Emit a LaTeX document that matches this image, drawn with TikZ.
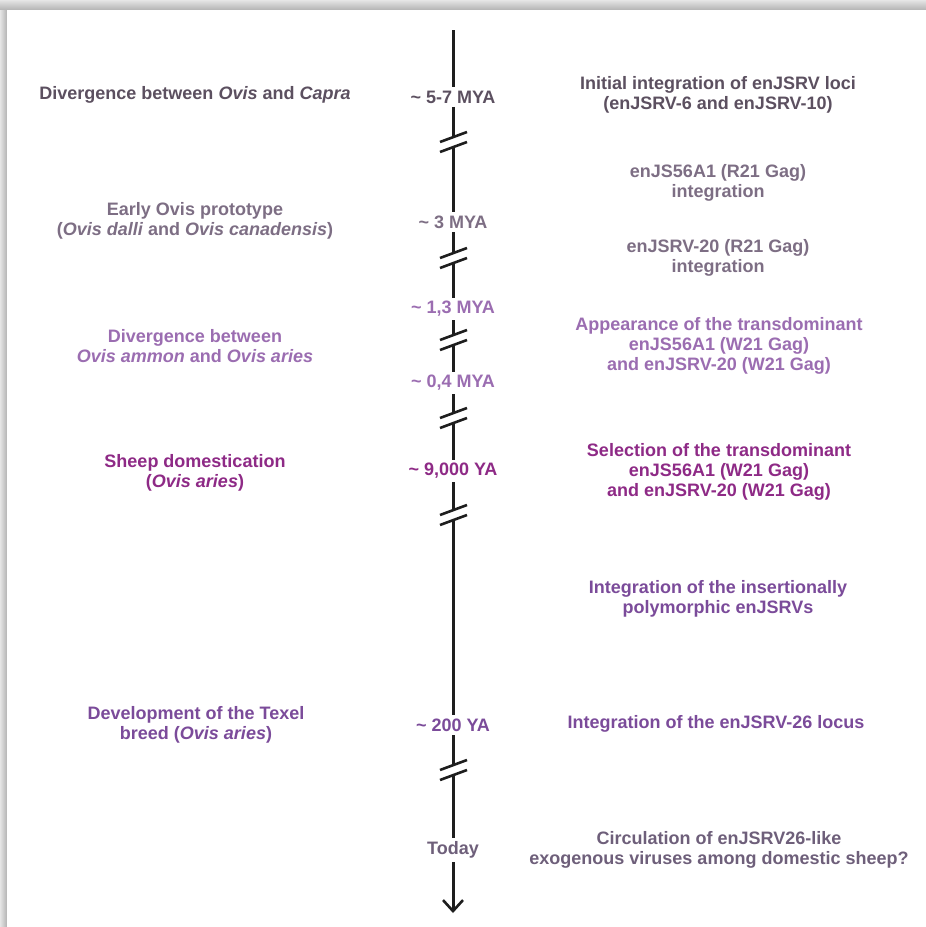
\documentclass[tikz,border=0pt]{standalone}
\usepackage{fontspec}
\setmainfont{Liberation Sans}
\usetikzlibrary{arrows.meta}
\definecolor{cA}{HTML}{5C5060}
\definecolor{cB}{HTML}{7D6E84}
\definecolor{cC}{HTML}{9B6DB1}
\definecolor{cD}{HTML}{8E2A86}
\definecolor{cE}{HTML}{7B4B9A}
\definecolor{cF}{HTML}{6E5F7A}
\definecolor{lineblk}{HTML}{1E1E1E}
\begin{document}
\begin{tikzpicture}[x=1pt,y=-1pt,
  txt/.style={font=\fontsize{18}{19.8}\selectfont\bfseries, align=center, inner sep=0pt},
  yr/.style={font=\fontsize{18}{19.8}\selectfont\bfseries, inner xsep=2pt, inner ysep=3.5pt},
  tl/.style={line width=3pt, draw=lineblk},
  slash/.style={line width=2.6pt, draw=lineblk}]
\useasboundingbox (0,0) rectangle (926,927);
% frame with shadow
\fill[gray!40] (0,0) rectangle (926,927);
\shade[top color=gray!20, bottom color=gray!60] (0,0) rectangle (926,10);
\shade[left color=gray!20, right color=gray!60] (0,10) rectangle (7,927);
\fill[white] (7,10) rectangle (926,927);

% timeline labels
\coordinate (top) at (453,30);
\coordinate (end) at (453,913);
\node[yr, text=cA] (l1) at (453,97) {\~{} 5-7 MYA};
\node[yr, text=cB] (l2) at (453,222) {\~{} 3 MYA};
\node[yr, text=cC] (l3) at (453,309) {\~{} 1,3 MYA};
\node[yr, text=cC] (l4) at (453,383) {\~{} 0,4 MYA};
\node[yr, text=cD] (l5) at (453,471) {\~{} 9,000 YA};
\node[yr, text=cE] (l6) at (453,725) {\~{} 200 YA};
\node[yr, text=cF] (l7) at (453,850) {Today};

% break coordinates
\coordinate (b1a) at (453,137); \coordinate (b1b) at (453,147);
\coordinate (b2a) at (453,253); \coordinate (b2b) at (453,263);
\coordinate (b3a) at (453,335); \coordinate (b3b) at (453,345);
\coordinate (b4a) at (453,413); \coordinate (b4b) at (453,423);
\coordinate (b5a) at (453,510); \coordinate (b5b) at (453,520);
\coordinate (b6a) at (453,765); \coordinate (b6b) at (453,775);

% timeline segments
\draw[tl] (top) -- (l1.north);
\draw[tl] (l1.south) -- (b1a);
\draw[tl] (b1b) -- (l2.north);
\draw[tl] (l2.south) -- (b2a);
\draw[tl] (b2b) -- (l3.north);
\draw[tl] (l3.south) -- (b3a);
\draw[tl] (b3b) -- (l4.north);
\draw[tl] (l4.south) -- (b4a);
\draw[tl] (b4b) -- (l5.north);
\draw[tl] (l5.south) -- (b5a);
\draw[tl] (b5b) -- (l6.north);
\draw[tl] (l6.south) -- (b6a);
\draw[tl] (b6b) -- (l7.north);
\draw[tl, -{Straight Barb[length=11pt, width=20pt, line width=2.6pt]}] (l7.south) -- (end);

% break slashes
\foreach \b in {b1,b2,b3,b4,b5,b6}{
  \draw[slash] ([shift={(-13,5)}]\b a) -- ([shift={(14,-5)}]\b a);
  \draw[slash] ([shift={(-13,5)}]\b b) -- ([shift={(14,-5)}]\b b);
}

% left texts
\node[txt, text=cA] (e1) at (195,95) {Divergence between \textit{Ovis} and \textit{Capra}};
\node[txt, text=cB] (e2) at (195,220.5) {Early Ovis prototype\\(\textit{Ovis dalli} and \textit{Ovis canadensis})};
\node[txt, text=cC] (e3) at (195,346) {Divergence between\\\textit{Ovis ammon} and \textit{Ovis aries}};
\node[txt, text=cD] (e4) at (195,472.5) {Sheep domestication\\(\textit{Ovis aries})};
\node[txt, text=cE] (e5) at (196,724.5) {Development of the Texel\\breed (\textit{Ovis aries})};

% right texts
\node[txt, text=cA] (r1) at (718,94.5) {Initial integration of enJSRV loci\\(enJSRV-6 and enJSRV-10)};
\node[txt, text=cB] (r2) at (718,182.5) {enJS56A1 (R21 Gag)\\integration};
\node[txt, text=cB] (r3) at (718,257.5) {enJSRV-20 (R21 Gag)\\integration};
\node[txt, text=cC] (r4) at (719,346) {Appearance of the transdominant\\enJS56A1 (W21 Gag)\\and enJSRV-20 (W21 Gag)};
\node[txt, text=cD] (r5) at (719,472) {Selection of the transdominant\\enJS56A1 (W21 Gag)\\and enJSRV-20 (W21 Gag)};
\node[txt, text=cE] (r6) at (718,598.5) {Integration of the insertionally\\polymorphic enJSRVs};
\node[txt, text=cE] (r7) at (716,724) {Integration of the enJSRV-26 locus};
\node[txt, text=cF] (r8) at (719,849.5) {Circulation of enJSRV26-like\\exogenous viruses among domestic sheep?};
\end{tikzpicture}
\end{document}
